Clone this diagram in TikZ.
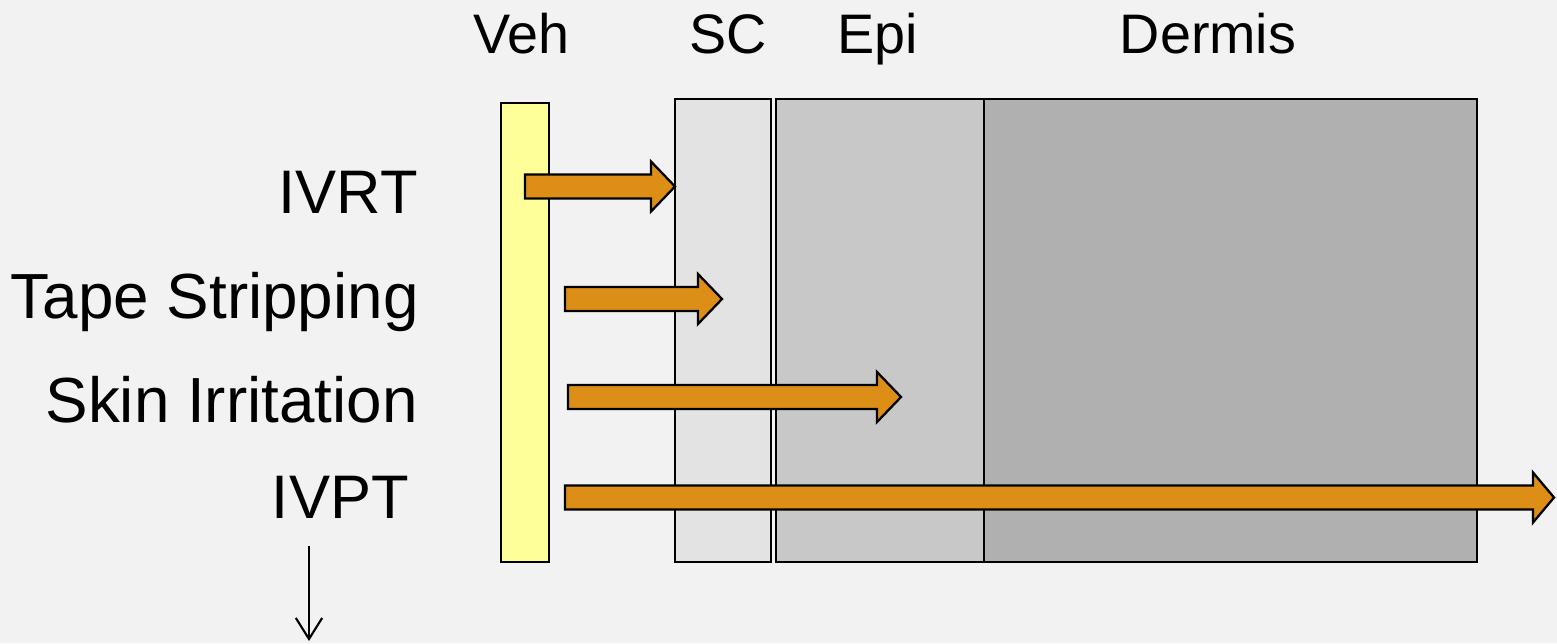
\documentclass[tikz,border=0pt]{standalone}
\usepackage{fontspec}
\setmainfont{Liberation Sans}
\usetikzlibrary{arrows.meta}
\definecolor{bgc}{HTML}{F2F2F2}
\definecolor{vehc}{HTML}{FFFF99}
\definecolor{scc}{HTML}{E3E3E3}
\definecolor{epic}{HTML}{C8C8C8}
\definecolor{dermc}{HTML}{B0B0B0}
\definecolor{orangec}{HTML}{DD8E16}
\tikzset{
  layer/.style={draw=black, line width=1.3pt},
  blockarrow/.style={draw=black, fill=orangec, line width=1.3pt, line join=miter},
  toplabel/.style={anchor=base, inner sep=0pt, font=\fontsize{31.7}{36}\selectfont},
  sidelabel/.style={anchor=base east, inner sep=0pt, font=\fontsize{36.3}{42}\selectfont},
  thinarrow/.style={draw=black, line width=1.2pt, -{Straight Barb[length=12pt,width=15pt]}}
}
\begin{document}
\begin{tikzpicture}[x=0.02cm, y=-0.02cm]
\fill[bgc] (0,0) rectangle (1557,643);
\useasboundingbox (0,0) rectangle (1557,643);
% layers
\draw[layer, fill=vehc] (501,103) rectangle (549,562);
\draw[layer, fill=scc] (675,99) rectangle (771,562);
\draw[layer, fill=epic] (776,99) rectangle (984,562);
\draw[layer, fill=dermc] (984,99) rectangle (1477,562);
% top labels
\node[toplabel] (veh) at (521.5,53) {Veh};
\node[toplabel] (sc) at (728,53) {SC};
\node[toplabel] (epi) at (877.5,53) {Epi};
\node[toplabel] (dermis) at (1208,53) {Dermis};
% side labels
\node[sidelabel, font=\fontsize{35}{42}\selectfont] (ivrt) at (418,213) {IVRT};
\node[sidelabel] (tape) at (419,318) {Tape Stripping};
\node[sidelabel] (skin) at (418,422) {Skin Irritation};
\node[sidelabel, font=\fontsize{35}{42}\selectfont] (ivpt) at (409,518) {IVPT};
% block arrows
\draw[blockarrow] (525,174.5) -- (651,174.5) -- (651,161.5) -- (675,186.5) -- (651,211.5) -- (651,198.5) -- (525,198.5) -- cycle;
\draw[blockarrow] (565,287) -- (698,287) -- (698,274) -- (722,299) -- (698,324) -- (698,311) -- (565,311) -- cycle;
\draw[blockarrow] (568,385) -- (877,385) -- (877,372) -- (901,397) -- (877,422) -- (877,409) -- (568,409) -- cycle;
\draw[blockarrow] (565,485.5) -- (1533,485.5) -- (1533,472.5) -- (1554,497.5) -- (1533,522.5) -- (1533,509.5) -- (565,509.5) -- cycle;
% down arrow
\coordinate (dtop) at (309,546);
\coordinate (dbot) at (309,641);
\draw[thinarrow] (dtop) -- (dbot);
\end{tikzpicture}
\end{document}
